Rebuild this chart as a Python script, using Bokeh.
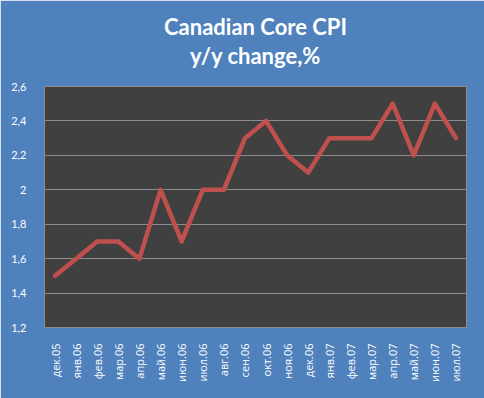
from bokeh.plotting import figure
from bokeh.models import Range1d, FixedTicker, Title, ColumnDataSource
from bokeh.embed import file_html
from bokeh.resources import INLINE
import math

months = ["дек.05", "янв.06", "фев.06", "мар.06", "апр.06", "май.06", "июн.06",
          "июл.06", "авг.06", "сен.06", "окт.06", "ноя.06", "дек.06", "янв.07",
          "фев.07", "мар.07", "апр.07", "май.07", "июн.07", "июл.07"]
core_cpi = [1.5, 1.6, 1.7, 1.7, 1.6, 2.0, 1.7, 2.0, 2.0, 2.3, 2.4, 2.2, 2.1, 2.3,
            2.3, 2.3, 2.5, 2.2, 2.5, 2.3]
y_ticks = [1.2, 1.4, 1.6, 1.8, 2.0, 2.2, 2.4, 2.6]
y_tick_labels = ["1,2", "1,4", "1,6", "1,8", "2", "2,2", "2,4", "2,6"]
title_line1 = "Canadian Core CPI"
title_line2 = "y/y change,%"

BLUE = "#4F81BD"

p = figure(x_range=months, y_range=Range1d(1.2, 2.6),
           width=484, height=398,
           output_backend="svg", toolbar_location=None,
           min_border_left=44, min_border_right=18,
           min_border_top=86, min_border_bottom=71)

p.background_fill_color = "#404040"
p.border_fill_color = BLUE
p.outline_line_color = "#8C8C8C"
p.outline_line_width = 1

src = ColumnDataSource(dict(m=months, v=core_cpi))
p.line("m", "v", source=src, line_color="#C0504D", line_width=4.5,
       line_join="round", line_cap="round")

p.xgrid.grid_line_color = None
p.ygrid.grid_line_color = "#8C8C8C"
p.ygrid.grid_line_width = 1

p.yaxis.ticker = FixedTicker(ticks=y_ticks)
p.yaxis.major_label_overrides = dict(zip(y_ticks, y_tick_labels))
p.yaxis.axis_line_color = None
p.yaxis.major_tick_line_color = None
p.yaxis.minor_tick_line_color = None
p.yaxis.major_label_text_color = "white"
p.yaxis.major_label_text_font = "Lato"
p.yaxis.major_label_text_font_size = "11px"
p.yaxis.major_label_standoff = 12

p.xaxis.axis_line_color = None
p.xaxis.major_tick_line_color = None
p.xaxis.minor_tick_line_color = None
p.xaxis.major_label_orientation = math.pi / 2
p.xaxis.major_label_text_color = "white"
p.xaxis.major_label_text_font = "Open Sans"
p.xaxis.major_label_text_font_size = "11px"
p.xaxis.major_label_standoff = 10

# spacer between frame and the title lines
p.add_layout(Title(text=" ", text_font_size="1px", standoff=15), "above")
for t, so in ((title_line2, 0), (title_line1, 0)):
    p.add_layout(Title(text=t, align="center", text_color="white",
                       text_font="Lato", text_font_style="bold",
                       text_font_size="22px", standoff=so), "above")

open("out.html", "w").write(file_html(p, INLINE))
